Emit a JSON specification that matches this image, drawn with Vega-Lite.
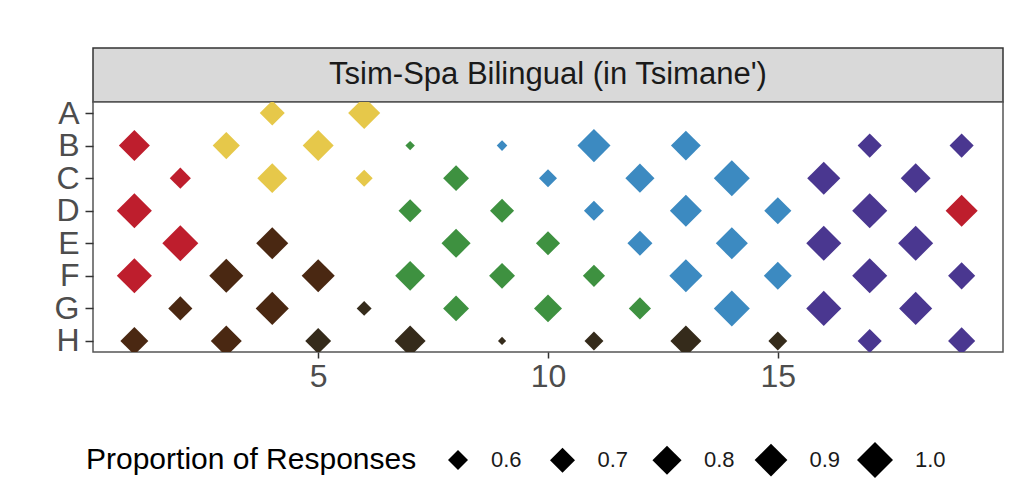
{
  "$schema": "https://vega.github.io/schema/vega-lite/v6.json",
  "background": "white",
  "padding": {"left": 53, "top": 47, "right": 23, "bottom": 10},
  "spacing": 0,
  "bounds": "flush",
  "config": {
    "font": "Liberation Sans",
    "axis": {"labelFont": "Liberation Sans"},
    "legend": {"labelFont": "Liberation Sans", "titleFont": "Liberation Sans"}
  },
  "vconcat": [
    {
      "width": 910,
      "height": 54,
      "view": {"fill": "#D9D9D9", "stroke": "#333333", "strokeWidth": 1.5},
      "data": {"values": [{"label": "Tsim-Spa Bilingual (in Tsimane')"}]},
      "mark": {"type": "text", "fontSize": 31, "color": "#1A1A1A", "font": "Liberation Sans", "baseline": "middle", "align": "center"},
      "encoding": {"text": {"field": "label", "type": "nominal"}}
    },
    {
      "width": 910,
      "height": 250,
      "view": {"fill": "white", "stroke": "#555555", "strokeWidth": 1.5},
      "data": {
        "values": [
          {"x": 4, "row": "A", "cat": "Yellow", "p": 0.70},
          {"x": 6, "row": "A", "cat": "Yellow", "p": 0.88},
          {"x": 1, "row": "B", "cat": "Red", "p": 0.85},
          {"x": 3, "row": "B", "cat": "Yellow", "p": 0.75},
          {"x": 5, "row": "B", "cat": "Yellow", "p": 0.85},
          {"x": 7, "row": "B", "cat": "Green", "p": 0.46},
          {"x": 9, "row": "B", "cat": "Blue", "p": 0.47},
          {"x": 11, "row": "B", "cat": "Blue", "p": 0.91},
          {"x": 13, "row": "B", "cat": "Blue", "p": 0.82},
          {"x": 17, "row": "B", "cat": "Purple", "p": 0.68},
          {"x": 19, "row": "B", "cat": "Purple", "p": 0.68},
          {"x": 2, "row": "C", "cat": "Red", "p": 0.62},
          {"x": 4, "row": "C", "cat": "Yellow", "p": 0.82},
          {"x": 6, "row": "C", "cat": "Yellow", "p": 0.55},
          {"x": 8, "row": "C", "cat": "Green", "p": 0.72},
          {"x": 10, "row": "C", "cat": "Blue", "p": 0.565},
          {"x": 12, "row": "C", "cat": "Blue", "p": 0.80},
          {"x": 14, "row": "C", "cat": "Blue", "p": 1.0},
          {"x": 16, "row": "C", "cat": "Purple", "p": 0.91},
          {"x": 18, "row": "C", "cat": "Purple", "p": 0.82},
          {"x": 1, "row": "D", "cat": "Red", "p": 0.97},
          {"x": 7, "row": "D", "cat": "Green", "p": 0.66},
          {"x": 9, "row": "D", "cat": "Green", "p": 0.68},
          {"x": 11, "row": "D", "cat": "Blue", "p": 0.60},
          {"x": 13, "row": "D", "cat": "Blue", "p": 0.88},
          {"x": 15, "row": "D", "cat": "Blue", "p": 0.75},
          {"x": 17, "row": "D", "cat": "Purple", "p": 0.97},
          {"x": 19, "row": "D", "cat": "Red", "p": 0.88},
          {"x": 2, "row": "E", "cat": "Red", "p": 1.0},
          {"x": 4, "row": "E", "cat": "Brown", "p": 0.88},
          {"x": 8, "row": "E", "cat": "Green", "p": 0.80},
          {"x": 10, "row": "E", "cat": "Green", "p": 0.68},
          {"x": 12, "row": "E", "cat": "Blue", "p": 0.70},
          {"x": 14, "row": "E", "cat": "Blue", "p": 0.88},
          {"x": 16, "row": "E", "cat": "Purple", "p": 0.97},
          {"x": 18, "row": "E", "cat": "Purple", "p": 0.97},
          {"x": 1, "row": "F", "cat": "Red", "p": 0.97},
          {"x": 3, "row": "F", "cat": "Brown", "p": 0.94},
          {"x": 5, "row": "F", "cat": "Brown", "p": 0.91},
          {"x": 7, "row": "F", "cat": "Green", "p": 0.82},
          {"x": 9, "row": "F", "cat": "Green", "p": 0.72},
          {"x": 11, "row": "F", "cat": "Green", "p": 0.64},
          {"x": 13, "row": "F", "cat": "Blue", "p": 0.91},
          {"x": 15, "row": "F", "cat": "Blue", "p": 0.77},
          {"x": 17, "row": "F", "cat": "Purple", "p": 0.97},
          {"x": 19, "row": "F", "cat": "Purple", "p": 0.75},
          {"x": 2, "row": "G", "cat": "Brown", "p": 0.68},
          {"x": 4, "row": "G", "cat": "Brown", "p": 0.91},
          {"x": 6, "row": "G", "cat": "Dark", "p": 0.52},
          {"x": 8, "row": "G", "cat": "Green", "p": 0.72},
          {"x": 10, "row": "G", "cat": "Green", "p": 0.77},
          {"x": 12, "row": "G", "cat": "Green", "p": 0.64},
          {"x": 14, "row": "G", "cat": "Blue", "p": 1.0},
          {"x": 16, "row": "G", "cat": "Purple", "p": 0.97},
          {"x": 18, "row": "G", "cat": "Purple", "p": 0.91},
          {"x": 1, "row": "H", "cat": "Brown", "p": 0.77},
          {"x": 3, "row": "H", "cat": "Brown", "p": 0.85},
          {"x": 5, "row": "H", "cat": "Dark", "p": 0.72},
          {"x": 7, "row": "H", "cat": "Dark", "p": 0.85},
          {"x": 9, "row": "H", "cat": "Dark", "p": 0.45},
          {"x": 11, "row": "H", "cat": "Dark", "p": 0.58},
          {"x": 13, "row": "H", "cat": "Dark", "p": 0.85},
          {"x": 15, "row": "H", "cat": "Dark", "p": 0.58},
          {"x": 17, "row": "H", "cat": "Purple", "p": 0.68},
          {"x": 19, "row": "H", "cat": "Purple", "p": 0.75}
        ]
      },
      "mark": {"type": "point", "shape": "diamond", "filled": true, "opacity": 1, "strokeWidth": 0, "clip": true},
      "encoding": {
        "x": {
          "field": "x", "type": "quantitative",
          "scale": {"domain": [0.1, 19.9], "nice": false, "zero": false},
          "axis": {"values": [5, 10, 15], "grid": false, "domain": false, "title": null,
                   "tickColor": "#333333", "tickSize": 6, "tickWidth": 1.5,
                   "labelFontSize": 32, "labelColor": "#4D4D4D", "labelPadding": 3}
        },
        "y": {
          "field": "row", "type": "nominal",
          "scale": {"type": "point", "padding": 0.34, "domain": ["A","B","C","D","E","F","G","H"]},
          "axis": {"grid": false, "domain": false, "title": null,
                   "tickColor": "#333333", "tickSize": 8, "tickWidth": 1.5,
                   "labelFontSize": 32, "labelColor": "#4D4D4D", "labelPadding": 6}
        },
        "color": {
          "field": "cat", "type": "nominal",
          "scale": {"domain": ["Red", "Yellow", "Brown", "Dark", "Green", "Blue", "Purple"],
                    "range": ["#BE1E2D", "#E6C84A", "#4A2812", "#352B1B", "#3E9140", "#3C8AC1", "#4A3790"]},
          "legend": null
        },
        "size": {
          "field": "p", "type": "quantitative",
          "scale": {"domain": [0.42, 1.0], "range": [0, 1296], "zero": false, "nice": false},
          "legend": {
            "title": "Proportion of Responses",
            "orient": "none", "legendX": -7, "legendY": 394,
            "direction": "horizontal", "titleOrient": "left",
            "values": [0.6, 0.7, 0.8, 0.9, 1.0], "format": ".1f",
            "symbolType": "diamond", "symbolFillColor": "#000000", "symbolStrokeWidth": 0, "symbolOpacity": 1,
            "titleFontSize": 30, "titleFontWeight": "normal", "titleColor": "#000000", "titlePadding": 30,
            "titleBaseline": "middle", "titleLimit": 500,
            "gridAlign": "all",
            "labelFontSize": 22, "labelColor": "#1A1A1A", "labelOffset": 22, "columnPadding": 13.5
          }
        }
      }
    }
  ]
}
